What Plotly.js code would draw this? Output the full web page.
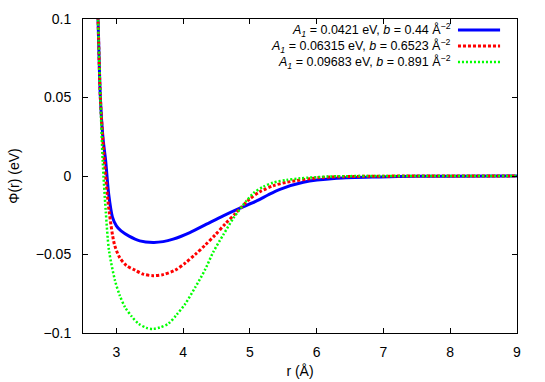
<!DOCTYPE html>
<html>
<head>
<meta charset="utf-8">
<script src="https://cdn.plot.ly/plotly-3.0.1.min.js"></script>
<style>html,body{margin:0;padding:0;background:#fff;}#chart{width:545px;height:382px;}</style>
</head>
<body>
<div id="chart"></div>
<script>
// Series 1 (blue): A1 = 0.0421 eV, b = 0.44
const r1   = [2.70, 2.725, 2.76, 2.80, 2.84, 2.885, 2.94, 3.00, 3.07, 3.19, 3.35, 3.55, 3.70, 3.85, 4.10, 4.35, 4.60, 4.85, 5.10, 5.27, 5.45, 5.80, 6.30, 6.95, 7.50, 8.00, 9.00];
const phi1 = [0.132, 0.100, 0.050, 0.024, 0.0095, -0.0116, -0.0260, -0.0318, -0.0350, -0.0383, -0.0413, -0.0423, -0.0418, -0.0402, -0.036, -0.0307, -0.0254, -0.0205, -0.0159, -0.0121, -0.0085, -0.0040, -0.0015, -0.0006, -0.0002, -0.0001, 0.0];
// Series 2 (red): A1 = 0.06315 eV, b = 0.6523
const r2   = [2.70, 2.725, 2.76, 2.82, 2.89, 2.97, 3.05, 3.15, 3.28, 3.40, 3.55, 3.70, 3.88, 4.03, 4.18, 4.33, 4.48, 4.63, 4.78, 4.88, 5.00, 5.15, 5.35, 5.55, 6.05, 6.55, 7.00, 9.00];
const phi2 = [0.130, 0.100, 0.050, 0.0095, -0.022, -0.0434, -0.052, -0.057, -0.060, -0.0625, -0.0635, -0.0628, -0.060, -0.0555, -0.050, -0.0440, -0.0375, -0.0305, -0.0240, -0.0195, -0.0145, -0.0100, -0.0062, -0.0040, -0.0010, -0.0003, -0.0001, 0.0];
// Series 3 (green): A1 = 0.09683 eV, b = 0.891
const r3   = [2.70, 2.725, 2.76, 2.795, 2.84, 2.89, 2.98, 3.05, 3.13, 3.23, 3.33, 3.45, 3.55, 3.65, 3.78, 3.90, 4.03, 4.18, 4.33, 4.45, 4.60, 4.75, 4.88, 4.95, 5.05, 5.20, 5.35, 5.55, 5.75, 6.20, 7.00, 9.00];
const phi3 = [0.130, 0.100, 0.050, 0.0095, -0.022, -0.0476, -0.0667, -0.076, -0.0836, -0.0895, -0.094, -0.0967, -0.0974, -0.0965, -0.094, -0.0885, -0.0815, -0.071, -0.0595, -0.0485, -0.0375, -0.0270, -0.0195, -0.0158, -0.0110, -0.0068, -0.0042, -0.0025, -0.0015, -0.0003, 0.0, 0.0];

const A1Labels = ["0.0421", "0.06315", "0.09683"];
const bLabels = ["0.44", "0.6523", "0.891"];
const colors = ["#0000ff", "#ff0000", "#00ff00"];
const xTicks = [3, 4, 5, 6, 7, 8, 9];
const yTicks = [-0.1, -0.05, 0, 0.05, 0.1];
const yTickText = ["\u22120.1", "\u22120.05", "0", "0.05", "0.1"];

const dashes = ["solid", "3px,2px", "2px,2px"];
const widths = [3, 3, 2.5];
const xs = [r1, r2, r3];
const ys = [phi1, phi2, phi3];

function label(i) {
  return "<i>A<sub>1</sub></i> = " + A1Labels[i] + " eV, <i>b</i> = " + bLabels[i] + " \u00C5<sup>\u22122</sup>";
}

const traces = xs.map((x, i) => ({
  x: x, y: ys[i], type: "scatter", mode: "lines",
  name: label(i), showlegend: false,
  line: {color: colors[i], width: widths[i], dash: dashes[i], shape: "spline", smoothing: 0.8}
}));

const font = {family: "Liberation Sans, Arial, sans-serif", color: "#000"};
const annotations = [];
const shapes = [];
const rowsY = [0.965, 0.914, 0.863];
for (let i = 0; i < 3; i++) {
  annotations.push({
    xref: "paper", yref: "paper", x: 0.852, y: rowsY[i], xanchor: "right", yanchor: "middle",
    text: label(i), showarrow: false, font: Object.assign({size: 12.5}, font)
  });
  shapes.push({
    type: "line", xref: "paper", yref: "paper", x0: 0.864, x1: 0.961, y0: rowsY[i], y1: rowsY[i],
    line: {color: colors[i], width: widths[i], dash: dashes[i]}
  });
}

const layout = {
  width: 545, height: 382,
  margin: {l: 83, r: 28, t: 19, b: 49, pad: 0},
  paper_bgcolor: "#fff", plot_bgcolor: "#fff",
  font: Object.assign({size: 14}, font),
  showlegend: false,
  xaxis: {
    range: [2.5, 9], tickvals: xTicks, ticktext: xTicks.map(String),
    ticks: "inside", ticklen: 5, tickcolor: "#000", tickwidth: 1,
    showline: true, linecolor: "#000", linewidth: 1, mirror: "ticks",
    showgrid: false, zeroline: false, ticklabelstandoff: 6,
    tickfont: Object.assign({size: 14}, font),
    title: {text: "r (\u00C5)", font: Object.assign({size: 14}, font), standoff: 7}
  },
  yaxis: {
    range: [-0.1, 0.1], tickvals: yTicks, ticktext: yTickText,
    ticks: "inside", ticklen: 5, tickcolor: "#000", tickwidth: 1,
    showline: true, linecolor: "#000", linewidth: 1, mirror: "ticks",
    showgrid: false, zeroline: false, ticklabelstandoff: 8,
    tickfont: Object.assign({size: 14}, font),
    title: {text: "\u03A6(r) (eV)", font: Object.assign({size: 14}, font), standoff: 12}
  },
  annotations: annotations,
  shapes: shapes
};

Plotly.newPlot("chart", traces, layout, {staticPlot: true, displayModeBar: false});
</script>
</body>
</html>
